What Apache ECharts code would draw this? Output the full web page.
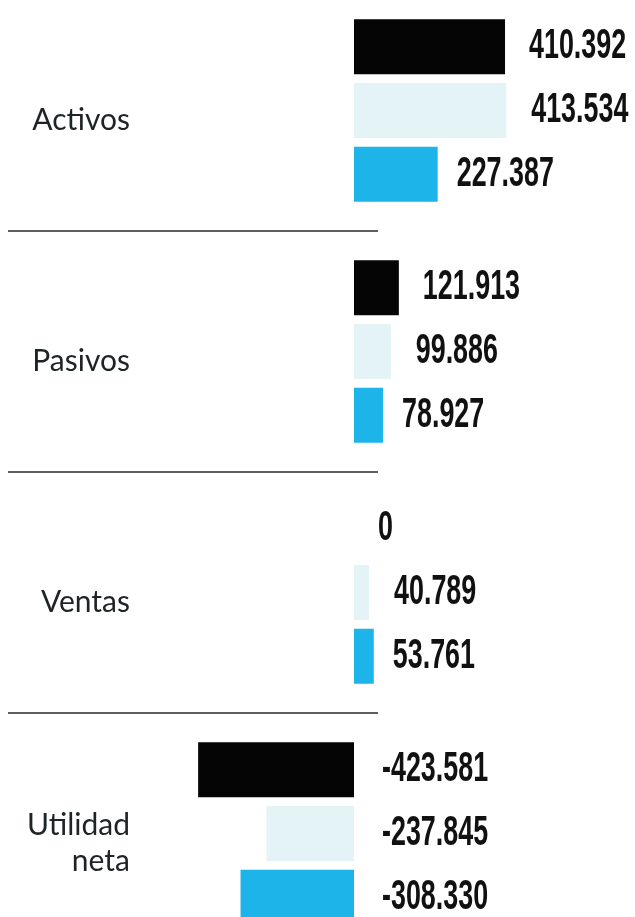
<!DOCTYPE html>
<html>
<head>
<meta charset="utf-8">
<script src="https://cdn.jsdelivr.net/npm/echarts@6/dist/echarts.min.js"></script>
<style>
  html, body { margin: 0; padding: 0; background: #fff; }
  #chart { width: 635px; height: 917px; }
</style>
</head>
<body>
<div id="chart"></div>
<script>
// categorias (eje vertical)
var categories = ['Activos', 'Pasivos', 'Ventas', 'Utilidad\nneta'];
// valores por serie (en unidades, se muestran con punto de miles)
var serieNegra = [410392, 121913, 0, -423581];
var serieClara = [413534, 99886, 40789, -237845];
var serieCeleste = [227387, 78927, 53761, -308330];

var BAR_W = 55;
var BAR_GAP = '16%';

// 410392 -> "410.392"
function miles(v) {
    var s = Math.abs(v).toString().replace(/\B(?=(\d{3})+(?!\d))/g, '.');
    return (v < 0 ? '-' : '') + s;
}

var chart = echarts.init(document.getElementById('chart'));

function barras(nombre, datos, color) {
    return {
        name: nombre,
        type: 'bar',
        data: datos,
        barWidth: BAR_W,
        barGap: BAR_GAP,
        itemStyle: { color: color },
        animation: false
    };
}

// etiquetas con letra angosta (texto escalado en x)
function etiquetas(datos, idx, distPos) {
    return {
        type: 'custom',
        data: datos.map(function (v, i) { return [v, i]; }),
        encode: { x: 0, y: 1 },
        silent: true,
        animation: false,
        renderItem: function (params, api) {
            var v = api.value(0);
            var lay = api.barLayout({ barWidth: BAR_W, barGap: BAR_GAP, count: 3 });
            var p = api.coord([v >= 0 ? v : 0, api.value(1)]);
            var dist = v < 0 ? 28 : distPos;
            return {
                type: 'text',
                x: p[0] + dist,
                y: p[1] + lay[idx].offsetCenter,
                scaleX: 0.64,
                style: {
                    text: miles(v),
                    fill: '#111',
                    fontSize: 42,
                    fontWeight: 'bold',
                    fontFamily: "'Liberation Sans', Arial, sans-serif",
                    align: 'left',
                    verticalAlign: 'middle'
                }
            };
        }
    };
}

var option = {
    backgroundColor: '#fff',
    grid: [
        { left: 170, right: 97, top: -10, height: 964, outerBoundsMode: 'none', containLabel: false },
        // solo para las lineas separadoras
        { left: 8, width: 370, top: -10, height: 964, outerBoundsMode: 'none', containLabel: false }
    ],
    xAxis: [
        { type: 'value', gridIndex: 0, min: -500000, max: 500000, show: false },
        { type: 'value', gridIndex: 1, min: 0, max: 1, show: false }
    ],
    yAxis: [
        {
            type: 'category', gridIndex: 0, inverse: true, data: categories,
            axisLine: { show: false },
            axisTick: { show: false },
            splitLine: { show: false },
            axisLabel: {
                margin: 40,
                align: 'right',
                // linea vacia arriba para bajar un poco el texto
                formatter: function (v) {
                    return '{s| }\n' + v.split('\n').map(function (l) {
                        return '{t|' + l + '}';
                    }).join('\n');
                },
                rich: {
                    s: { fontSize: 8, lineHeight: 20 },
                    t: {
                        fontFamily: 'Lato, "Noto Sans", sans-serif',
                        fontSize: 30,
                        lineHeight: 36,
                        color: '#1e2426',
                        align: 'right'
                    }
                }
            }
        },
        {
            type: 'category', gridIndex: 1, inverse: true, data: categories,
            axisLine: { show: false },
            axisTick: { show: false },
            axisLabel: { show: false },
            splitLine: { show: true, lineStyle: { color: '#2a2a2e', width: 1.5 } }
        }
    ],
    series: [
        barras('negra', serieNegra, '#050505'),
        barras('clara', serieClara, '#e3f3f6'),
        barras('celeste', serieCeleste, '#1db4ea'),
        etiquetas(serieNegra, 0, 24),
        etiquetas(serieClara, 1, 25),
        etiquetas(serieCeleste, 2, 19)
    ]
};

chart.setOption(option);
window.addEventListener('resize', chart.resize);
</script>
</body>
</html>
